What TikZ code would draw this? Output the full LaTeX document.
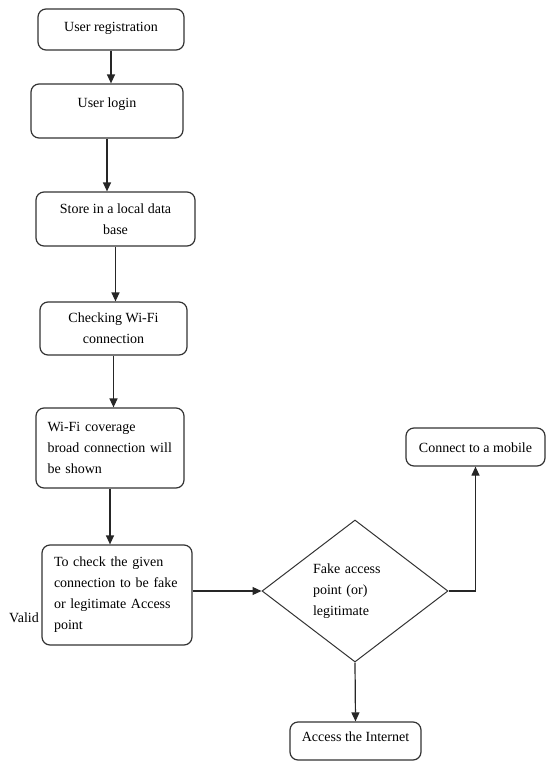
\documentclass[tikz,border=0pt]{standalone}
\usepackage{fontspec}
\setmainfont{Liberation Serif}
\usetikzlibrary{shapes, arrows, arrows.meta, positioning, calc}

\begin{document}
\begin{tikzpicture}[x=1pt, y=-1pt,
    box/.style={draw=black!80, line width=1.2pt, rounded corners=8pt, font=\fontsize{14}{21}\selectfont, inner sep=0pt},
    arr/.style={-{Triangle[length=9pt, width=8pt]}, line width=1.2pt, black!85}]
    \useasboundingbox (0,0) rectangle (546,763);

    % Main column
    \node[box, minimum width=146pt, text height=22pt, text depth=19pt] (reg) at (111,29.5) {User registration};
    \node[box, minimum width=152pt, text height=23pt, text depth=31pt] (login) at (107,111) {User login};
    \node[box, minimum width=159pt, minimum height=54pt, align=center] (store) at (115.5,219) {Store in a local data\\base};
    \node[box, minimum width=147pt, minimum height=53pt, align=center] (wifi) at (113.5,328.5) {Checking Wi-Fi\\connection};
    \node[box, minimum width=148pt, minimum height=80pt, text width=125pt, align=left] (cover) at (110,448) {Wi-Fi coverage\\broad connection will\\be shown};
    \node[box, minimum width=150pt, minimum height=100pt, text width=126pt, align=left] (verify) at (117,595) {To check the given\\connection to be fake\\or legitimate Access\\point};
    \node[font=\fontsize{14}{21}\selectfont, anchor=east, inner sep=0pt] (valid) at (39,618) {Valid};

    % Decision
    \node[diamond, draw=black!80, line width=1pt, minimum width=186pt, minimum height=142pt, shape aspect=1.3, inner sep=0pt, text width=84pt, align=left, font=\fontsize{14}{21}\selectfont] (dec) at (355,591) {Fake access\\point (or)\\legitimate};
    \node[box, minimum width=139pt, text height=24pt, text depth=14pt] (mobile) at (475.5,447) {Connect to a mobile};
    \node[box, minimum width=131pt, text height=19pt, text depth=19pt] (net) at (355.5,741) {Access the Internet};

    % Arrows
    \draw[arr] (reg.south) -- (reg.south |- login.north);
    \draw[arr] (login.south) -- (login.south |- store.north);
    \draw[arr] (store.south) -- (store.south |- wifi.north);
    \draw[arr] (wifi.south) -- (wifi.south |- cover.north);
    \draw[arr] (cover.south) -- (cover.south |- verify.north);
    \draw[arr] (verify.east |- dec.west) -- (dec.west);
    \draw[arr] (dec.east) -| (mobile.south);
    \draw[arr] (dec.south) -- (net.north);
\end{tikzpicture}
\end{document}
